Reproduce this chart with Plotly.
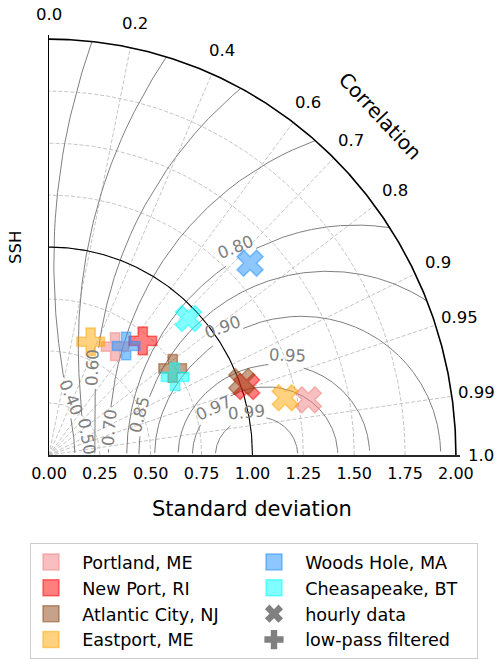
import numpy as np
import plotly.graph_objects as go

# ---------------- data ----------------
stations = ["Portland, ME", "New Port, RI", "Atlantic City, NJ",
            "Eastport, ME", "Woods Hole, MA", "Cheasapeake, BT"]
station_rgb = ["240,128,128", "255,0,0", "139,69,19",
               "255,165,0", "30,144,255", "0,255,255"]
hourly_std = [1.302, 1.026, 1.011, 1.193, 1.352, 0.949]
hourly_corr = [0.979, 0.947, 0.937, 0.973, 0.731, 0.722]
lowpass_std = [0.614, 0.717, 0.737, 0.582, 0.647, 0.725]
lowpass_corr = [0.529, 0.643, 0.825, 0.352, 0.586, 0.855]

corr_ticks = [0.0, 0.2, 0.4, 0.6, 0.7, 0.8, 0.9, 0.95, 0.99, 1.0]
corr_tick_labels = ["0.0", "0.2", "0.4", "0.6", "0.7", "0.8", "0.9", "0.95", "0.99", "1.0"]
std_ticks = [0.0, 0.25, 0.5, 0.75, 1.0, 1.25, 1.5, 1.75, 2.0]
std_tick_labels = ["0.00", "0.25", "0.50", "0.75", "1.00", "1.25", "1.50", "1.75", "2.00"]
skill_levels = [0.4, 0.5, 0.6, 0.7, 0.8, 0.85, 0.9, 0.95, 0.97, 0.99]
skill_labels = ["0.40", "0.50", "0.60", "0.70", "0.80", "0.85", "0.90", "0.95", "0.97", "0.99"]
ref_std = 1.0
max_std = 2.0

# ---------------- style / geometry ----------------
FONT = "DejaVu Sans"
W, H = 500, 660
PL, PB = 49.0, 455.0          # pixel of origin
XR = [0.0, 2.02]
YR = [0.0, 2.02]
SX, SY = 203.35, 208.0        # px per unit
PW, PH = SX * XR[1], SY * YR[1]
ML, MB = PL, H - PB
MR, MT = W - PL - PW, PB - PH

def to_xy(s, r):
    s = np.asarray(s, float); r = np.asarray(r, float)
    return s * r, s * np.sqrt(np.clip(1 - r ** 2, 0, None))

def px_of(x, y):
    return PL + np.asarray(x) * SX, PB - np.asarray(y) * SY

def paper(px, py):
    return (px - PL) / PW, (PB - py) / PH

# skill score used for the background contours
C0 = 0.385
def amp(s):
    return 4 * s * ref_std / (s + ref_std) ** 2

# label placement (pixel centres, rotation) for contour labels
label_style = {
    0.99: (246, 412, -5), 0.97: (213, 408, -25), 0.95: (287, 355, 2),
    0.90: (222, 327, -20), 0.80: (235, 247, -22), 0.85: (139, 415, -75),
    0.70: (109, 428, -85), 0.60: (92, 368, -88), 0.50: (87, 436, 80),
    0.40: (71, 397, 68),
}

fig = go.Figure()
GRID = dict(color="rgb(190,190,190)", width=0.9, dash="4px,2px")
CENTER = dict(xanchor="center", yanchor="middle", showarrow=False)

# dashed std arcs
th = np.linspace(0, np.pi / 2, 300)
for s in std_ticks[1:-1]:
    fig.add_trace(go.Scatter(x=s * np.cos(th), y=s * np.sin(th), mode="lines",
                             line=GRID, hoverinfo="skip", showlegend=False))
# dashed radial lines
for r in corr_ticks[1:-1]:
    x, y = to_xy([0, max_std], [r, r])
    fig.add_trace(go.Scatter(x=x, y=y, mode="lines", line=GRID,
                             hoverinfo="skip", showlegend=False))

# skill contours
sig = np.linspace(0.0005, max_std, 5000)
A = amp(sig)
for lev, lab in zip(skill_levels, skill_labels):
    R = (lev / A - C0) / (1 - C0)
    ok = (R >= 0) & (R <= 1)
    x, y = to_xy(sig, np.clip(R, 0, 1))
    px, py = px_of(x, y)
    cx, cy, ang = label_style[round(lev, 2)]
    hl = 21
    ok &= np.hypot(px - cx, py - cy) > hl
    xx = np.where(ok, x, np.nan); yy = np.where(ok, y, np.nan)
    fig.add_trace(go.Scatter(x=xx, y=yy, mode="lines",
                             line=dict(color="rgb(128,128,128)", width=1),
                             connectgaps=False, hoverinfo="skip", showlegend=False))
    xp, yp = paper(cx, cy)
    fig.add_annotation(x=xp, y=yp, xref="paper", yref="paper", text=lab,
                       textangle=ang, **CENTER,
                       font=dict(family=FONT, size=16.6, color="rgb(128,128,128)"))

# black reference arc and outer arc
fig.add_trace(go.Scatter(x=ref_std * np.cos(th), y=ref_std * np.sin(th), mode="lines",
                         line=dict(color="black", width=1.1), hoverinfo="skip", showlegend=False))
fig.add_trace(go.Scatter(x=max_std * np.cos(th), y=max_std * np.sin(th), mode="lines",
                         line=dict(color="black", width=1.6), hoverinfo="skip", showlegend=False))

# data markers
for i, name in enumerate(stations):
    rgba = f"rgba({station_rgb[i]},0.5)"
    for std, cor, sym in ((hourly_std, hourly_corr, "x"),
                          (lowpass_std, lowpass_corr, "cross")):
        x, y = to_xy([std[i]], [cor[i]])
        fig.add_trace(go.Scatter(x=x, y=y, mode="markers", showlegend=False,
                                 marker=dict(symbol=sym, size=23, color=rgba,
                                             line=dict(color=rgba, width=1.5))))

# legend entries (row-major order for 2 columns)
legend_order = [("st", 0), ("st", 4), ("st", 1), ("st", 5), ("st", 2), ("hourly data", "x"),
                ("st", 3), ("low-pass filtered", "cross")]
NB = "\u00a0\u00a0"
for kind, v in legend_order:
    if kind == "st":
        rgba = f"rgba({station_rgb[v]},0.5)"
        fig.add_trace(go.Scatter(x=[None], y=[None], mode="markers", name=NB + stations[v],
                                 marker=dict(symbol="square", size=16, color=rgba,
                                             line=dict(color=rgba, width=1.5))))
    else:
        fig.add_trace(go.Scatter(x=[None], y=[None], mode="markers", name=NB + kind,
                                 marker=dict(symbol=v, size=16, color="gray",
                                             line=dict(color="gray", width=0))))

# correlation tick labels
for r, lab in zip(corr_ticks, corr_tick_labels):
    t = np.arccos(r)
    fig.add_annotation(x=max_std * np.cos(t), y=max_std * np.sin(t), text=lab,
                       xshift=25 * np.cos(t), yshift=25 * np.sin(t), **CENTER,
                       font=dict(family=FONT, size=16.5, color="black"))

xp, yp = paper(380, 116)
fig.add_annotation(x=xp, y=yp, xref="paper", yref="paper", text="Correlation",
                   textangle=47, **CENTER, font=dict(family=FONT, size=20, color="black"))
xp, yp = paper(252, 509)
fig.add_annotation(x=xp, y=yp, xref="paper", yref="paper", text="Standard deviation",
                   **CENTER, font=dict(family=FONT, size=21, color="black"))
xp, yp = paper(15, 247)
fig.add_annotation(x=xp, y=yp, xref="paper", yref="paper", text="SSH",
                   textangle=-90, **CENTER, font=dict(family=FONT, size=16.5, color="black"))

lx, ly = paper(30, 543)
fig.update_layout(
    width=W, height=H, margin=dict(l=ML, r=MR, t=MT, b=MB, pad=0, autoexpand=False),
    paper_bgcolor="white", plot_bgcolor="white",
    font=dict(family=FONT, size=16, color="black"),
    xaxis=dict(range=XR, tickvals=std_ticks, ticktext=std_tick_labels, showgrid=False,
               zeroline=False, showline=True, linecolor="rgb(40,40,40)", linewidth=2,
               ticks="outside", ticklen=3, tickcolor="rgba(0,0,0,0)",
               tickfont=dict(family=FONT, size=16)),
    yaxis=dict(range=YR, showticklabels=False, showgrid=False, zeroline=False,
               showline=True, linecolor="black", linewidth=1.3, ticks=""),
    legend=dict(orientation="h", x=lx, y=ly, xanchor="left", yanchor="top",
                entrywidth=178, entrywidthmode="pixels", bordercolor="rgb(204,204,204)",
                borderwidth=1, font=dict(family=FONT, size=17.6), itemsizing="trace",
                traceorder="normal"),
    showlegend=True,
)
fig.write_html("out.html")
